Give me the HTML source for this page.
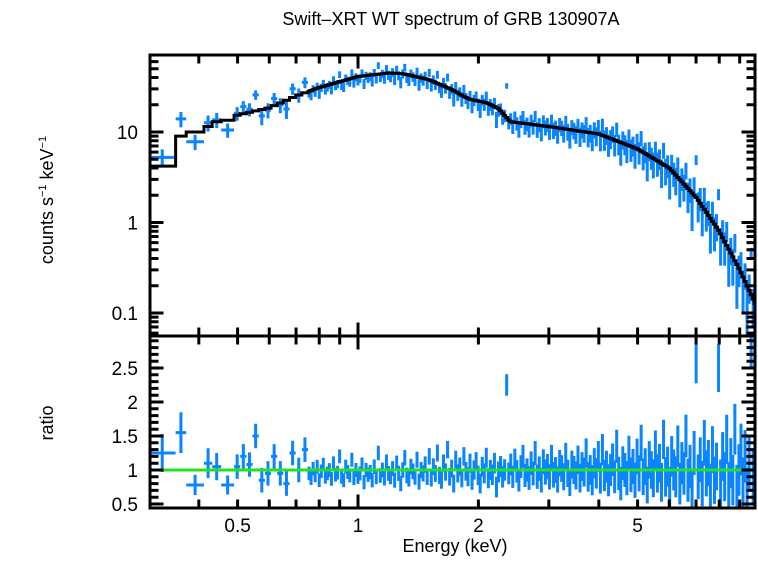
<!DOCTYPE html>
<html><head><meta charset="utf-8"><style>
body{margin:0;background:#fff;}
svg text{font-family:"Liberation Sans",Arial,sans-serif;fill:#000;}
</style></head><body>
<svg id="c" width="758" height="556" xmlns="http://www.w3.org/2000/svg">
<text x="451" y="25" font-size="18" text-anchor="middle">Swift–XRT WT spectrum of GRB 130907A</text>
<text transform="translate(53,200) rotate(-90)" font-size="18" text-anchor="middle">counts s<tspan font-size="11" dy="-7">−1</tspan><tspan dy="7"> keV</tspan><tspan font-size="11" dy="-7">−1</tspan></text>
<text transform="translate(53,423) rotate(-90)" font-size="18" text-anchor="middle">ratio</text>
<text x="455" y="552" font-size="18" text-anchor="middle">Energy (keV)</text>
<g id="marks"></g>
<g id="axes"></g>
</svg>
<script>
// early wide bins: [lo, hi, model, ratio, ratioErr]
const earlyBins=[[0.30,0.35,4.2,1.25,0.28],[0.35,0.372,9,1.55,0.3],[0.372,0.412,10,0.78,0.15],[0.412,0.432,11.5,1.1,0.22],[0.432,0.455,13,1.05,0.2],[0.455,0.49,13.5,0.78,0.14]];
const midRatios=[1.05,1.2,1.08,1.5,0.85,0.95,1.2,0.95,0.8,1.25,1.0,1.3];
const fineRatios=[0.95,0.88,1.02,0.92,1.05,0.85,0.98,1.08,0.9,0.95,1.0,0.87,1.1,0.93,0.96,1.2,0.9,0.85,1.05,0.97,
0.92,1.15,0.88,1.0,0.9,0.95,1.08,0.82,1.0,0.93,0.97,0.85,1.05,0.9,1.25,0.92,1.0,0.88,1.12,0.95,
0.9,1.02,0.85,1.1,0.95,0.8,1.0,1.18,0.92,0.87,1.05,0.98,0.9,1.15,0.83,1.0,0.95,1.08,0.9,1.2,
0.88,1.05,0.95,1.25,0.92,0.85,1.1,0.97,1.3,0.9,1.02,0.8,1.15,0.95,1.05,0.88,1.2,0.98,0.9,1.1,
0.85,1.0,1.12,0.92,0.8,1.05,0.95,1.18,0.88,1.0,0.93,1.1,0.75,0.97,1.05,0.9,1.0,2.25,0.95,1.08,
0.9,1.15,0.98,0.85,1.05,1.2,0.92,1.0,0.88,1.1,0.95,1.25,0.9,1.02,0.85,1.12,0.97,1.05,0.9,1.18,
0.93,1.0,0.86,1.1,1.02,0.9,1.2,0.95,0.82,1.08,1.0,0.92,1.15,0.88,1.05,0.97,1.25,0.9,1.0,0.85,
1.1,0.95,1.2,0.88,1.3,0.92,1.05,0.85,1.0,1.15,0.9,1.35,0.95,0.8,1.1,1.0,0.88,1.25,0.93,1.05,
0.85,1.2,0.95,1.4,0.9,1.05,0.78,1.15,1.0,0.88,1.3,0.95,1.1,0.82,1.45,0.9,1.05,0.75,1.2,1.0,
0.9,1.35,0.8,1.1,0.95,1.5,0.85,1.05,0.7,1.25,2.6,0.9,1.15,0.8,1.4,0.95,1.1,0.75,1.3,0.85,
1.05,2.5,0.8,1.2,0.9,1.45,0.75,1.1,0.85,1.6,0.7,1.0,1.3,0.8,1.2,0.65,1.1,2.9,0.9,0.7];
const modelE=[0.49,0.55,0.6,0.7,0.8,1.0,1.2,1.3,1.5,1.7,1.9,2.1,2.25,2.4,3,4,5,6,7,8,9,9.9];
const modelV=[15,17,18.5,25,31,41,45,44,38,30,23,21,18,13,11.5,9.5,6.5,4.0,1.9,0.8,0.3,0.12];
const topTicks=["0.1","1","10"], topTickVals=[0.1,1,10];
const ratioTicks=["0.5","1","1.5","2","2.5"], ratioTickVals=[0.5,1,1.5,2,2.5];
const xTicks=["0.5","1","2","5"], xTickVals=[0.5,1,2,5];

const L=150,R=755,T=55,M=336,B=508;
const X=e=>358+400*Math.log10(e);
const YT=v=>132-90.5*(Math.log10(v)-1);
const YB=r=>470-68*(r-1);
function model(e){
  if(e<=modelE[0])return modelV[0];
  for(let i=1;i<modelE.length;i++){if(e<=modelE[i]){const t=Math.log(e/modelE[i-1])/Math.log(modelE[i]/modelE[i-1]);return Math.exp(Math.log(modelV[i-1])+t*Math.log(modelV[i]/modelV[i-1]));}}
  return modelV[modelV.length-1];
}
const bins=earlyBins.map(b=>({lo:b[0],hi:b[1],m:b[2],r:b[3],er:b[4]}));
let a=0.49,b=0.75;
midRatios.forEach((r,i)=>{const lo=a*Math.pow(b/a,i/midRatios.length),hi=a*Math.pow(b/a,(i+1)/midRatios.length);bins.push({lo,hi,m:model(Math.sqrt(lo*hi)),r,er:0.18});});
a=0.75;b=9.9;const n=fineRatios.length;
fineRatios.forEach((r,i)=>{const lo=a*Math.pow(b/a,i/n),hi=a*Math.pow(b/a,(i+1)/n);const f=i/(n-1);bins.push({lo,hi,m:model(Math.sqrt(lo*hi)),r,er:0.1+0.3*f*f});});

const NS="http://www.w3.org/2000/svg";
const marks=document.getElementById('marks'),axes=document.getElementById('axes');
function mk(p,tag,at){const e=document.createElementNS(NS,tag);for(const k in at)e.setAttribute(k,at[k]);p.appendChild(e);return e;}
const clipD=mk(marks,'defs',{});
const c1=mk(clipD,'clipPath',{id:'ct'});mk(c1,'rect',{x:L,y:T,width:R-L,height:M-T});
const c2=mk(clipD,'clipPath',{id:'cb'});mk(c2,'rect',{x:L,y:M,width:R-L,height:B-M});
const gT=mk(marks,'g',{'clip-path':'url(#ct)'});


const gB=mk(marks,'g',{'clip-path':'url(#cb)'});


let dT='',dB='';
bins.forEach(bn=>{
  const xc=X(Math.sqrt(bn.lo*bn.hi)),x0=X(bn.lo),x1=X(bn.hi);
  const v=bn.m*bn.r,ev=bn.m*bn.er;
  const yv=YT(v),y0=YT(Math.max(v-ev,0.01)),y1=YT(v+ev);
  dT+=`M${x0},${yv}H${x1}M${xc},${y0}V${y1}`;
  dB+=`M${x0},${YB(bn.r)}H${x1}M${xc},${YB(bn.r-bn.er)}V${YB(bn.r+bn.er)}`;
});
const pT=mk(gT,'path',{d:dT,stroke:'#0a84ff','stroke-width':3,fill:'none'});


let md=`M${X(bins[0].lo)},${YT(bins[0].m)}`;
bins.forEach(bn=>{md+=`V${YT(bn.m)}H${X(bn.hi)}`;});
const pm=mk(gT,'path',{d:md,stroke:'#000','stroke-width':3,fill:'none'});


const pB=mk(gB,'path',{d:dB,stroke:'#0a84ff','stroke-width':3,fill:'none'});


const gl=mk(gB,'line',{x1:L,x2:R,y1:YB(1),y2:YB(1),stroke:'#22e022','stroke-width':3});



let ad='';
ad+=`M${L},${T}H${R}V${B}H${L}ZM${L},${M}H${R}`;
const xt=[];for(let d=0.1;d<=1;d*=10)for(let k=1;k<10;k++)xt.push([d*k,k===1]);
xt.forEach(([e,maj])=>{const x=X(e);if(x<=L+1||x>=R-1)return;const l=maj?12:7;
  ad+=`M${x},${T}v${l}M${x},${M}v${-l}M${x},${M}v${l}M${x},${B}v${-l}`;});
for(let d=0.01;d<=100;d*=10)for(let k=1;k<10;k++){const v=d*k,y=YT(v);if(y<=T+1||y>=M-1)continue;const l=k===1?12:7;ad+=`M${L},${y}h${l}M${R},${y}h${-l}`;}
for(let i=4;i<=29;i++){const r=i/10,y=YB(r);if(y<=M+1||y>=B-1)continue;const l=(i%5===0)?12:7;ad+=`M${L},${y}h${l}M${R},${y}h${-l}`;}
const ax=mk(axes,'path',{d:ad,stroke:'#000','stroke-width':3,fill:'none','stroke-linecap':'square'});


topTicks.forEach((t,i)=>{const e=mk(axes,'text',{x:L-12,y:YT(topTickVals[i])+7,'font-size':19,'text-anchor':'end'});e.textContent=t;
  
  });
ratioTicks.forEach((t,i)=>{const e=mk(axes,'text',{x:L-12,y:YB(ratioTickVals[i])+7,'font-size':19,'text-anchor':'end'});e.textContent=t;
  
  });
xTicks.forEach((t,i)=>{const e=mk(axes,'text',{x:X(xTickVals[i]),y:B+24,'font-size':19,'text-anchor':'middle'});e.textContent=t;
  
  });
</script>
</body></html>
